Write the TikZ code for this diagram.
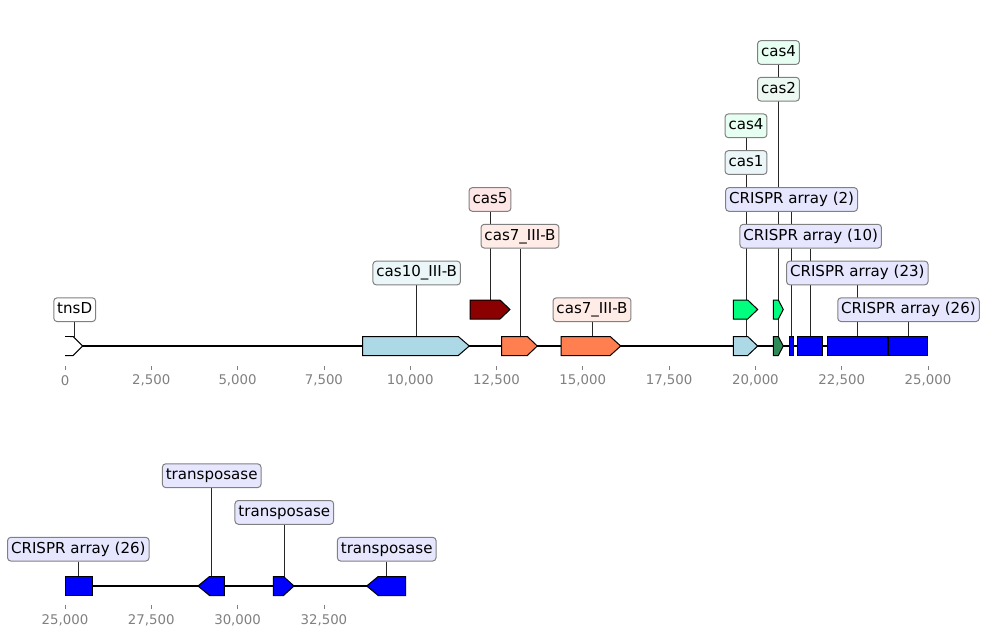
\documentclass[tikz,border=0pt]{standalone}
\usepackage{fontspec}
\setmainfont{DejaVu Sans}
\pgfdeclarelayer{back}
\pgfsetlayers{back,main}
\definecolor{lblgrey}{HTML}{808080}
\definecolor{tickgrey}{HTML}{808080}
\definecolor{cLightblue}{HTML}{ADD8E6}
\definecolor{cDarkred}{HTML}{8B0000}
\definecolor{cCoral}{HTML}{FF7F50}
\definecolor{cSpring}{HTML}{00FF7F}
\definecolor{cSea}{HTML}{2E8B57}
\definecolor{cBlue}{HTML}{0000FF}
\definecolor{bLightblue}{HTML}{EBF6F9}
\definecolor{bDarkred}{HTML}{FFE6E6}
\definecolor{bCoral}{HTML}{FFECE6}
\definecolor{bSpring}{HTML}{E6FFF2}
\definecolor{bSea}{HTML}{ECF9F2}
\definecolor{bBlue}{HTML}{E6E6FF}
\newcommand\fwdgene[5]{% x1, x2 (tip), yc, head, colour
  \filldraw[gene, fill=#5] (#1,#3-9.5) -- (#2-#4,#3-9.5) -- (#2,#3) -- (#2-#4,#3+9.5) -- (#1,#3+9.5) -- cycle;}
\newcommand\revgene[5]{% x1 (tip), x2, yc, head, colour
  \filldraw[gene, fill=#5] (#1,#3) -- (#1+#4,#3-9.5) -- (#2,#3-9.5) -- (#2,#3+9.5) -- (#1+#4,#3+9.5) -- cycle;}
\newcommand\blkgene[4]{% x1, x2, yc, colour
  \filldraw[gene, fill=#4] (#1,#3-9.5) rectangle (#2,#3+9.5);}
\begin{document}
\begin{tikzpicture}[x=0.75pt,y=-0.75pt,
  lbl/.style={draw=lblgrey, line width=0.75pt, rounded corners=2.5pt, inner xsep=2.6pt, inner ysep=0pt,
    minimum height=17.8pt, text height=8.3pt, text depth=2.5pt, font=\fontsize{11.3pt}{13pt}\selectfont},
  leader/.style={draw=black!85, line width=0.6pt},
  gene/.style={draw=black, line width=0.75pt, line join=miter},
  basel/.style={draw=black, line width=1.5pt},
  tickmark/.style={draw=tickgrey, line width=0.6pt},
  ticklbl/.style={text=tickgrey, inner sep=0pt, font=\fontsize{10pt}{12pt}\selectfont}]
\useasboundingbox (0,0) rectangle (986,638);

% ---------- top track ----------
\coordinate (tA) at (65,346);
\coordinate (tB) at (928,346);
\draw[basel] (tA) -- (tB);

% tnsD (clipped at the left edge)
\filldraw[gene, fill=white] (65,336.5) -- (73.2,336.5) -- (82.7,346) -- (73.2,355.5) -- (65,355.5);
\fill[white] (65.3,337) rectangle (70,355);
\fwdgene{362.7}{469.3}{346}{11}{cLightblue}
\fwdgene{470}{510}{309.5}{10}{cDarkred}
\fwdgene{501.7}{537.3}{346}{10}{cCoral}
\fwdgene{561}{620.7}{346}{10.5}{cCoral}
\fwdgene{733.3}{757.7}{346}{10}{cLightblue}
\fwdgene{733.3}{757.7}{309.5}{10}{cSpring}
\fwdgene{773.3}{783.3}{309.5}{5}{cSpring}
\fwdgene{773.3}{783.3}{346}{5}{cSea}
\blkgene{789.3}{793.7}{346}{cBlue}
\blkgene{797.3}{822.7}{346}{cBlue}
\blkgene{827}{887}{346}{cBlue}
\blkgene{888.7}{927.7}{346}{cBlue}

% feature anchor points
\coordinate (f-tnsd) at (74.7,336.5);
\coordinate (f-cas10) at (416.7,336.5);
\coordinate (f-cas5) at (490,300);
\coordinate (f-cas7a) at (520,336.5);
\coordinate (f-cas7b) at (592,336.5);
\coordinate (f-cas1) at (746,336.5);
\coordinate (f-cas4a) at (746,300);
\coordinate (f-cas4b) at (778.5,300);
\coordinate (f-cas2) at (778.5,336.5);
\coordinate (f-cr2) at (791.6,336.5);
\coordinate (f-cr10) at (810.7,336.5);
\coordinate (f-cr23) at (857.3,336.5);
\coordinate (f-cr26) at (908.5,336.5);

% labels
\node[lbl, fill=white] (l-tnsd) at (74.7,309.7) {tnsD};
\node[lbl, fill=bLightblue] (l-cas10) at (416.7,273) {cas10\_III-B};
\node[lbl, fill=bDarkred] (l-cas5) at (490,199.5) {cas5};
\node[lbl, fill=bCoral] (l-cas7a) at (520,236.2) {cas7\_III-B};
\node[lbl, fill=bCoral] (l-cas7b) at (592,309.7) {cas7\_III-B};
\node[lbl, fill=bLightblue] (l-cas1) at (746,162.5) {cas1};
\node[lbl, fill=bSpring] (l-cas4a) at (746,125.8) {cas4};
\node[lbl, fill=bSpring] (l-cas4b) at (778.5,52.5) {cas4};
\node[lbl, fill=bSea] (l-cas2) at (778.5,89.2) {cas2};
\node[lbl, fill=bBlue] (l-cr2) at (791.6,199.5) {CRISPR array (2)};
\node[lbl, fill=bBlue] (l-cr10) at (810.7,236.2) {CRISPR array (10)};
\node[lbl, fill=bBlue] (l-cr23) at (857.3,273) {CRISPR array (23)};
\node[lbl, fill=bBlue] (l-cr26) at (908.5,309.7) {CRISPR array (26)};

\begin{pgfonlayer}{back}
\foreach \n in {tnsd,cas10,cas5,cas7a,cas7b,cas1,cas4a,cas4b,cas2,cr2,cr10,cr23,cr26}
  \draw[leader] (l-\n.south) -- (f-\n);
\end{pgfonlayer}

% ticks (top)
\foreach \i/\t in {0/0,1/{2,500},2/{5,000},3/{7,500},4/{10,000},5/{12,500},6/{15,000},7/{17,500},8/{20,000},9/{22,500},10/{25,000}} {
  \coordinate (tk\i) at (65+86.3*\i,366);
  \draw[tickmark] (tk\i) -- ++(0,4);
  \node[ticklbl] (tl\i) at (65+86.3*\i,380.5) {\t};
}

% ---------- bottom track ----------
\coordinate (bA) at (65,586);
\coordinate (bB) at (405.7,586);
\draw[basel] (bA) -- (bB);
\blkgene{65}{92}{586}{cBlue}
\revgene{198}{224.3}{586}{11.5}{cBlue}
\fwdgene{273.3}{294}{586}{10.5}{cBlue}
\revgene{366.7}{405.7}{586}{11.5}{cBlue}

\coordinate (g-cr26) at (78.3,576.5);
\coordinate (g-tr1) at (211.7,576.5);
\coordinate (g-tr2) at (284.3,576.5);
\coordinate (g-tr3) at (386.7,576.5);

\node[lbl, fill=bBlue] (m-cr26) at (78.3,549.2) {CRISPR array (26)};
\node[lbl, fill=bBlue] (m-tr1) at (211.7,475.7) {transposase};
\node[lbl, fill=bBlue] (m-tr2) at (284.3,512.4) {transposase};
\node[lbl, fill=bBlue] (m-tr3) at (386.7,549.2) {transposase};

\begin{pgfonlayer}{back}
\foreach \n in {cr26,tr1,tr2,tr3}
  \draw[leader] (m-\n.south) -- (g-\n);
\end{pgfonlayer}

\foreach \i/\t in {0/{25,000},1/{27,500},2/{30,000},3/{32,500}} {
  \coordinate (bk\i) at (65+86.3*\i,604.5);
  \draw[tickmark] (bk\i) -- ++(0,4);
  \node[ticklbl] (bl\i) at (65+86.3*\i,620) {\t};
}
\end{tikzpicture}
\end{document}
